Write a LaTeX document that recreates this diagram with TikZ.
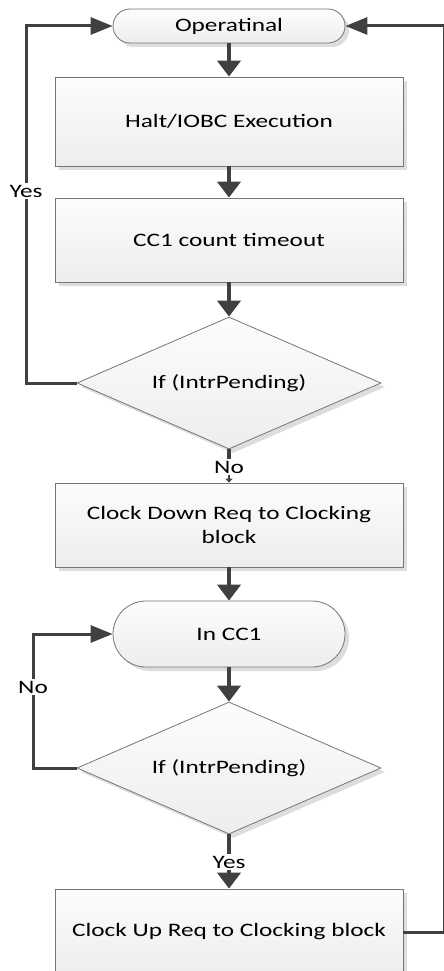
\documentclass[tikz,border=0pt]{standalone}
\usepackage{fontspec}
\setmainfont{Carlito}[FakeStretch=1.33]
\usetikzlibrary{arrows.meta,shapes.geometric,shadows}
\definecolor{linegray}{HTML}{404040}
\definecolor{edgegray}{HTML}{767676}
\definecolor{shadegray}{HTML}{DDDDDD}
\tikzset{
  every node/.style={font=\fontsize{19}{24}\selectfont},
  boxshade/.style={draw=edgegray, line width=0.8pt,
    top color=white!99!black, bottom color=white!93!black,
    drop shadow={shadow xshift=4pt, shadow yshift=-4pt, fill=shadegray, opacity=1}},
  procbox/.style={boxshade, rectangle, minimum width=348pt, inner sep=0pt, align=center},
  termbox/.style={boxshade, rectangle, minimum width=232pt, inner sep=0pt},
  decision/.style={boxshade, diamond, aspect=2.3, minimum width=304pt,
    minimum height=132pt, inner sep=0pt},
  lbl/.style={inner sep=1.5pt},
  vflow/.style={draw=linegray, line width=4pt, -{Triangle[length=16pt,width=23pt]}},
  vsmall/.style={draw=linegray, line width=2pt, -{Triangle[length=4pt,width=7pt]}},
  vline/.style={draw=linegray, line width=4pt},
  loopline/.style={draw=linegray, line width=3pt},
  hflow/.style={draw=linegray, line width=3pt, -{Triangle[length=22pt,width=17pt]}},
}
\begin{document}
\begin{tikzpicture}[x=1pt, y=-1pt]
\useasboundingbox (0,0) rectangle (444,971);

% flowchart blocks
\node[termbox, minimum height=34pt, rounded corners=17pt] (op) at (229,26) {Operatinal};
\node[procbox, minimum height=89pt] (halt) at (229,121.5) {Halt/IOBC Execution};
\node[procbox, minimum height=84pt] (cc1) at (229,240) {CC1 count timeout};
\node[decision] (d1) at (229,383) {If (IntrPending)};
\node[lbl] (no1) at (229,467) {No};
\node[procbox, minimum height=84pt] (cdown) at (229,525) {Clock Down Req to Clocking\\block};
\node[termbox, minimum height=66pt, rounded corners=33pt] (incc1) at (229,634) {In CC1};
\node[decision] (d2) at (229,768) {If (IntrPending)};
\node[lbl] (yes2) at (229,862) {Yes};
\node[procbox, minimum height=86pt] (cup) at (229,932) {Clock Up Req to Clocking block};

% loop labels
\node[lbl] (yes1) at (26,191) {Yes};
\node[lbl] (no2) at (33,687) {No};

% main flow
\draw[vflow] (op.south) -- (halt.north);
\draw[vflow] (halt.south) -- (cc1.north);
\draw[vflow] (cc1.south) -- (d1.north);
\draw[vline] (d1.south) -- (no1.north);
\draw[vsmall] (no1.south) -- (cdown.north);
\draw[vflow] (cdown.south) -- (incc1.north);
\draw[vflow] (incc1.south) -- (d2.north);
\draw[vline] (d2.south) -- (yes2.north);
\draw[vflow] (yes2.south) -- (cup.north);

% interrupt pending: back to operational
\draw[loopline] (d1.west) -| (yes1.south);
\draw[hflow] (yes1.north) |- (op.west);

% no interrupt: stay in CC1
\draw[loopline] (d2.west) -| (no2.south);
\draw[hflow] (no2.north) |- (incc1.west);

% clock up returns to operational
\coordinate (rb) at (444,932);
\coordinate (rt) at (444,26);
\draw[hflow] (cup.east) -- (rb) -- (rt) -- (op.east);
\end{tikzpicture}
\end{document}
